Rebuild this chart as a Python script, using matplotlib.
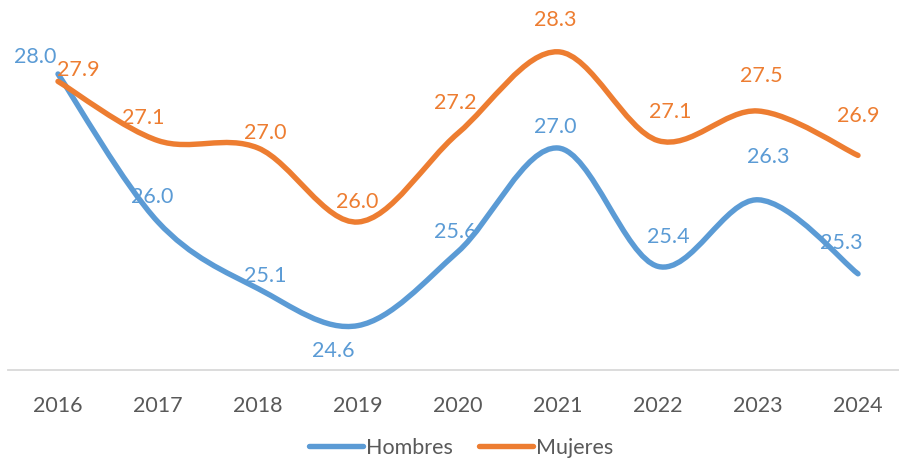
import numpy as np
import matplotlib.pyplot as plt
from matplotlib.path import Path
from matplotlib.patches import PathPatch
from matplotlib.lines import Line2D

years = ['2016', '2017', '2018', '2019', '2020', '2021', '2022', '2023', '2024']
hombres = [28.0, 26.0, 25.1, 24.6, 25.6, 27.0, 25.4, 26.3, 25.3]
mujeres = [27.9, 27.1, 27.0, 26.0, 27.2, 28.3, 27.1, 27.5, 26.9]

# label offsets in pixels (dx, dy), tuned by eye
off_h = [(-23, 17), (-6, 25), (7, 13), (-25, -25), (-3, 20), (-3, 21), (10, 29), (10, 43), (-17, 31)]
off_m = [(20, 11), (-15, 23), (7, 15), (-1, 20), (-3, 30), (-3, 32), (12, 29), (3, 35), (0, 39)]

BLUE = '#5B9BD5'
ORANGE = '#ED7D31'
GREY = '#595959'

plt.rcParams['font.family'] = ['Lato', 'DejaVu Sans']


def smooth_path(xs, ys):
    # excel-like smoothing: cubic bezier segments through the points
    p = np.column_stack([xs, ys]).astype(float)
    n = len(p)
    verts = [p[0]]
    codes = [Path.MOVETO]
    for i in range(n - 1):
        p_prev = p[i - 1] if i > 0 else p[i]
        p_next = p[i + 2] if i + 2 < n else p[i + 1]
        c1 = p[i] + (p[i + 1] - p_prev) / 6.0
        c2 = p[i + 1] - (p_next - p[i]) / 6.0
        verts += [c1, c2, p[i + 1]]
        codes += [Path.CURVE4] * 3
    return Path(verts, codes)


fig = plt.figure(figsize=(8.99, 4.59), dpi=100)
ax = fig.add_axes([8 / 899, 89 / 459, 891 / 899, 370 / 459])
x = np.arange(len(years))

for vals, col in [(hombres, BLUE), (mujeres, ORANGE)]:
    patch = PathPatch(smooth_path(x, vals), fill=False, edgecolor=col,
                      lw=3.9, capstyle='round', joinstyle='round')
    ax.add_patch(patch)

for vals, offs, col in [(hombres, off_h, BLUE), (mujeres, off_m, ORANGE)]:
    for xi, v, (dx, dy) in zip(x, vals, offs):
        ax.annotate(f'{v:.1f}', (xi, v), xytext=(dx, dy), textcoords='offset pixels',
                    ha='center', va='center', color=col, fontsize=15.5)

ax.set_xlim(-0.5, 8.41)
ax.set_ylim(24, 29)
ax.set_xticks(x)
ax.set_xticklabels(years, color=GREY, fontsize=15.5)
ax.tick_params(axis='x', length=0, pad=19)
ax.set_yticks([])
for s in ['top', 'right', 'left']:
    ax.spines[s].set_visible(False)
ax.spines['bottom'].set_color('#D9D9D9')
ax.spines['bottom'].set_linewidth(1.3)

handles = [Line2D([], [], color=BLUE, lw=3.9, solid_capstyle='round'),
           Line2D([], [], color=ORANGE, lw=3.9, solid_capstyle='round')]
fig.legend(handles, ['Hombres', 'Mujeres'], loc='center', bbox_to_anchor=(461 / 899, 11 / 459),
           ncol=2, frameon=False, fontsize=15.5, labelcolor=GREY,
           handlelength=2.5, handletextpad=0.15, columnspacing=1.2)

fig.savefig('out.png', dpi=100)
